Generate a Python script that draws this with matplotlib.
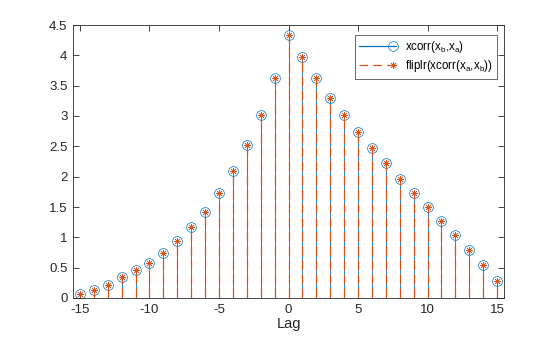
import numpy as np
import matplotlib
matplotlib.use("Agg")
import matplotlib.pyplot as plt
from matplotlib.lines import Line2D
from matplotlib.legend_handler import HandlerLine2D

plt.rcParams['font.family'] = ['Liberation Sans', 'DejaVu Sans']
plt.rcParams['mathtext.fontset'] = 'custom'
plt.rcParams['mathtext.rm'] = 'Liberation Sans'
plt.rcParams['mathtext.it'] = 'Liberation Sans'
plt.rcParams['mathtext.default'] = 'rm'
plt.rcParams['axes.unicode_minus'] = False

lags = list(range(-15, 16))
xc_ba = [0.066, 0.14, 0.22, 0.35, 0.46, 0.58, 0.75, 0.94, 1.17, 1.41, 1.73,
         2.09, 2.52, 3.01, 3.62, 4.33, 3.97, 3.62, 3.30, 3.01, 2.74, 2.48,
         2.22, 1.96, 1.73, 1.50, 1.27, 1.04, 0.79, 0.54, 0.28]
xc_ab_flipped = list(xc_ba)
legend_labels = ['xcorr(x$_b$,x$_a$)', 'fliplr(xcorr(x$_a$,x$_b$))']

blue = '#0072BD'
orange = '#D95319'
axcol = '#262626'
dash = (0, (8, 3.3))


class EndMarkerHandler(HandlerLine2D):
    """Legend entry: line across the handle box with the marker at its right end."""
    def create_artists(self, legend, orig_handle, xdescent, ydescent,
                       width, height, fontsize, trans):
        y = height / 2 - ydescent
        x0, x1 = -xdescent, -xdescent + width
        line = Line2D([x0, x1], [y, y])
        line.update_from(orig_handle)
        line.set_marker('')
        mk = Line2D([x1 - 2], [y])
        mk.update_from(orig_handle)
        mk.set_linestyle('none')
        for a in (line, mk):
            a.set_transform(trans)
        return [line, mk]


fig = plt.figure(figsize=(5.6, 3.37), dpi=100)
ax = fig.add_axes([73/560, 1-298/337, (504-73)/560, (298-25)/337])

m1, s1, b1 = ax.stem(lags, xc_ba, linefmt='-', markerfmt='o', basefmt=' ')
s1.set_color(blue)
s1.set_linewidth(0.6)
m1.set_markerfacecolor('none')
m1.set_markeredgecolor(blue)
m1.set_markersize(7)
m1.set_markeredgewidth(0.5)

m2, s2, b2 = ax.stem(lags, xc_ab_flipped, linefmt='--', markerfmt=' ', basefmt=' ')
s2.set_color(orange)
s2.set_linewidth(0.9)
s2.set_linestyle(dash)
ax.plot(lags, xc_ab_flipped, linestyle='none', marker=(8, 2, 0),
        color=orange, markersize=5, markeredgewidth=0.5)

ax.set_xlim(-15.5, 15.5)
ax.set_ylim(0, 4.5)
ax.set_xticks([-15, -10, -5, 0, 5, 10, 15])
ax.set_yticks(np.arange(0, 4.51, 0.5))
ax.set_yticklabels(['0', '0.5', '1', '1.5', '2', '2.5', '3', '3.5', '4', '4.5'])
ax.tick_params(direction='in', length=4, width=0.6, top=True, right=True,
               labelsize=9.5, colors=axcol, pad=4)
for sp in ax.spines.values():
    sp.set_color(axcol)
    sp.set_linewidth(0.6)
ax.set_xlabel('Lag', fontsize=10.5, color=axcol, labelpad=1)

h1 = Line2D([0], [0], color=blue, linewidth=0.9, marker='o', markerfacecolor='none',
            markeredgecolor=blue, markersize=7, markeredgewidth=0.5)
h2 = Line2D([0], [0], color=orange, linewidth=0.9, linestyle=(0, (7, 4)),
            marker=(8, 2, 0), markersize=5, markeredgewidth=0.5)
leg = ax.legend([h1, h2], legend_labels,
                loc='upper right', bbox_to_anchor=(497/560, 1-35/337),
                bbox_transform=fig.transFigure,
                handler_map={Line2D: EndMarkerHandler()},
                fontsize=8.3, frameon=True, fancybox=False, handlelength=3.2,
                borderpad=0.35, labelspacing=0.3, handletextpad=0.8,
                borderaxespad=0)
leg.get_frame().set_edgecolor(axcol)
leg.get_frame().set_linewidth(0.6)

fig.savefig('out.png', dpi=100)
